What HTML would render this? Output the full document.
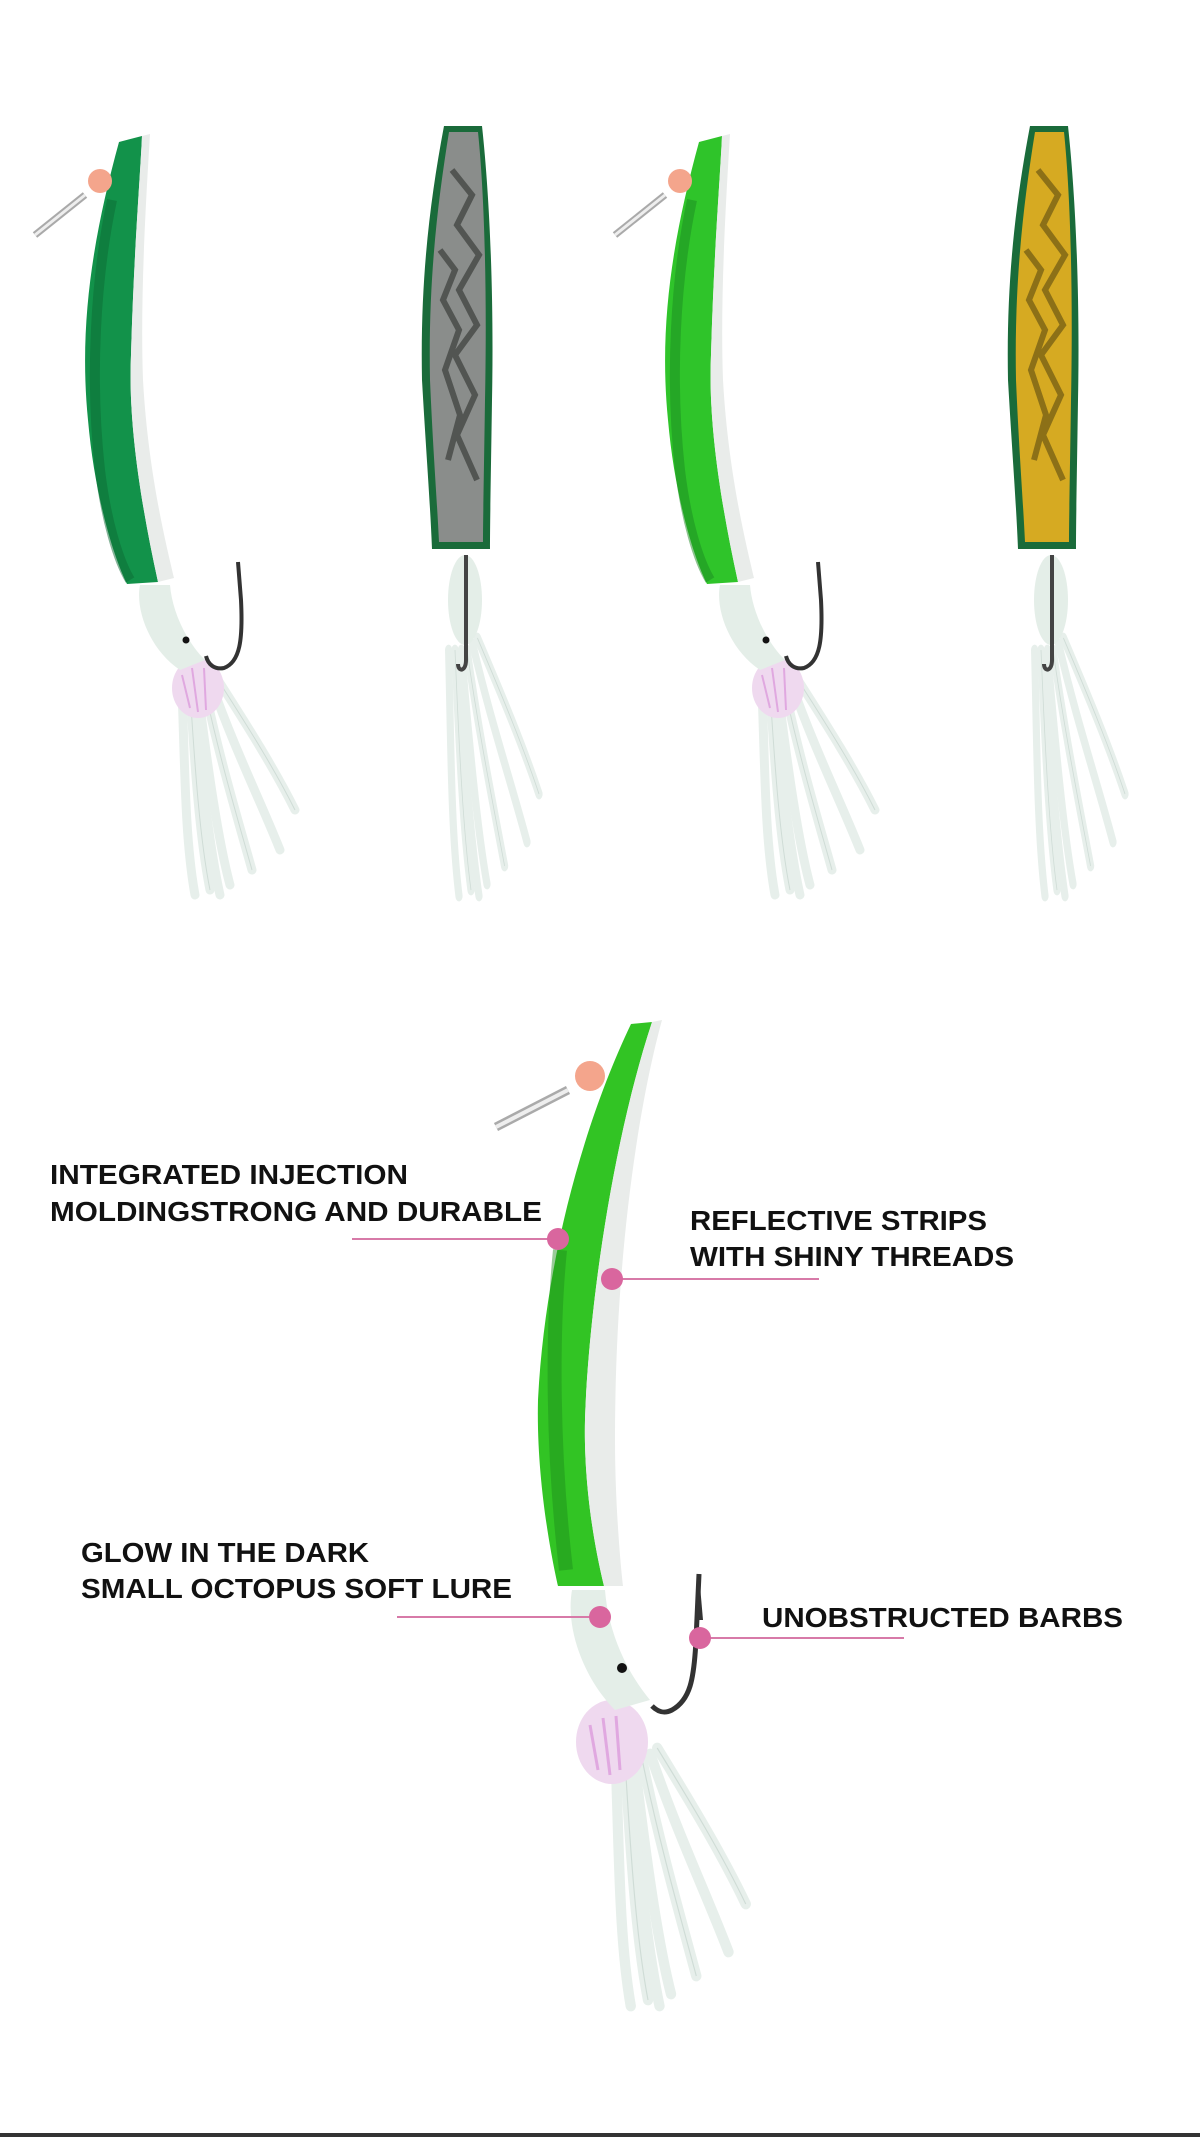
<!DOCTYPE html>
<html><head><meta charset="utf-8"><style>
html,body{margin:0;padding:0;background:#fff;}
svg{display:block;}
text{font-family:"Liberation Sans",Arial,sans-serif;font-weight:bold;fill:#111;font-size:28px;}
</style></head><body>
<svg width="1200" height="2137" viewBox="0 0 1200 2137" xmlns="http://www.w3.org/2000/svg">
<defs>
<g id="oct">
  <!-- tentacles -->
  <g stroke="#e6efea" stroke-width="9" stroke-linecap="round" fill="none" opacity="0.95">
    <path d="M0,0 C5,80 10,150 20,200"/>
    <path d="M8,0 C18,80 28,150 40,195"/>
    <path d="M15,0 C30,70 48,130 62,180"/>
    <path d="M22,-5 C45,60 70,110 90,160"/>
    <path d="M28,-10 C60,40 85,80 105,120"/>
    <path d="M-8,0 C-5,80 -5,150 5,205"/>
    <path d="M2,5 C12,90 20,160 30,205"/>
  </g>
  <g stroke="#cfdcd6" stroke-width="1" fill="none">
    <path d="M0,0 C5,80 10,150 20,200"/>
    <path d="M15,0 C30,70 48,130 62,180"/>
    <path d="M28,-10 C60,40 85,80 105,120"/>
  </g>
</g>
</defs>

<!-- ===== Lure 1 ===== -->
<g>
  <use href="#oct" transform="translate(190,690)"/>
  <ellipse cx="198" cy="688" rx="26" ry="30" fill="#efd9ef"/>
  <path d="M182,675 L190,708 M192,668 L198,712 M204,668 L206,710" stroke="#e0a8e0" stroke-width="2"/>
  <path d="M140,585 C135,610 150,650 180,670 L205,660 C185,640 172,610 170,585 Z" fill="#e4eee8"/>
  <circle cx="186" cy="640" r="3.5" fill="#111"/>
  <path d="M238,562 L241,600 C243,640 240,662 224,668 C214,670 208,664 206,656" stroke="#333" stroke-width="4" fill="none"/>
  <path d="M119,142 C95,230 78,320 88,420 C95,500 115,560 127,584 L158,582 C140,500 128,420 131,355 C134,250 140,180 142,136 Z" fill="#12924a"/>
  <path d="M112,200 C95,280 90,380 100,470 C106,520 118,560 130,580" stroke="#0b6a34" stroke-width="10" fill="none" opacity="0.5"/>
  <path d="M142,136 L150,134 C146,200 140,300 143,380 C148,470 165,540 174,578 L158,582 C140,500 128,420 131,355 C134,250 140,180 142,136 Z" fill="#e9ecea"/>
  <circle cx="100" cy="181" r="12" fill="#f4a58c"/>
  <path d="M35,235 L85,195" stroke="#aaa" stroke-width="7"/>
  <path d="M35,235 L85,195" stroke="#eee" stroke-width="3"/>
</g>

<!-- ===== Lure 2 ===== -->
<g id="l2">
  <use href="#oct" transform="translate(455,650) scale(0.8,1.2)"/>
  <ellipse cx="465" cy="600" rx="17" ry="45" fill="#e4eee8"/>
  <path d="M466,555 L466,660 C466,672 458,672 458,664" stroke="#444" stroke-width="4" fill="none"/>
  <path d="M444,126 L482,126 C490,200 494,300 492,400 C491,470 490,520 490,549 L432,549 C430,500 426,450 422,380 C420,280 430,200 444,126 Z" fill="#1a6b3a"/>
  <path d="M449,132 L478,132 C485,200 487,300 485,400 C484,470 483,520 483,542 L439,542 C437,500 433,450 430,380 C428,280 438,200 449,132 Z" fill="#8a8d8b"/>
  <path d="M452,170 l20,25 l-15,30 l22,30 l-20,35 l18,35 l-22,30 l20,40 l-18,40 l20,45 M440,250 l15,20 l-12,30 l16,30 l-14,40 l15,45 l-12,45" stroke="#3a3d3b" stroke-width="6" fill="none" opacity="0.7"/>
</g>

<!-- ===== Lure 3 (copy of lure 1, bright green) ===== -->
<g transform="translate(580,0)">
  <use href="#oct" transform="translate(190,690)"/>
  <ellipse cx="198" cy="688" rx="26" ry="30" fill="#efd9ef"/>
  <path d="M182,675 L190,708 M192,668 L198,712 M204,668 L206,710" stroke="#e0a8e0" stroke-width="2"/>
  <path d="M140,585 C135,610 150,650 180,670 L205,660 C185,640 172,610 170,585 Z" fill="#e4eee8"/>
  <circle cx="186" cy="640" r="3.5" fill="#111"/>
  <path d="M238,562 L241,600 C243,640 240,662 224,668 C214,670 208,664 206,656" stroke="#333" stroke-width="4" fill="none"/>
  <path d="M119,142 C95,230 78,320 88,420 C95,500 115,560 127,584 L158,582 C140,500 128,420 131,355 C134,250 140,180 142,136 Z" fill="#2fc42a"/>
  <path d="M112,200 C95,280 90,380 100,470 C106,520 118,560 130,580" stroke="#1b8a22" stroke-width="10" fill="none" opacity="0.5"/>
  <path d="M142,136 L150,134 C146,200 140,300 143,380 C148,470 165,540 174,578 L158,582 C140,500 128,420 131,355 C134,250 140,180 142,136 Z" fill="#e9ecea"/>
  <circle cx="100" cy="181" r="12" fill="#f4a58c"/>
  <path d="M35,235 L85,195" stroke="#aaa" stroke-width="7"/>
  <path d="M35,235 L85,195" stroke="#eee" stroke-width="3"/>
</g>

<!-- ===== Lure 4 (gold) ===== -->
<g transform="translate(586,0)">
  <use href="#oct" transform="translate(455,650) scale(0.8,1.2)"/>
  <ellipse cx="465" cy="600" rx="17" ry="45" fill="#e4eee8"/>
  <path d="M466,555 L466,660 C466,672 458,672 458,664" stroke="#444" stroke-width="4" fill="none"/>
  <path d="M444,126 L482,126 C490,200 494,300 492,400 C491,470 490,520 490,549 L432,549 C430,500 426,450 422,380 C420,280 430,200 444,126 Z" fill="#1a6b3a"/>
  <path d="M449,132 L478,132 C485,200 487,300 485,400 C484,470 483,520 483,542 L439,542 C437,500 433,450 430,380 C428,280 438,200 449,132 Z" fill="#d6aa22"/>
  <path d="M452,170 l20,25 l-15,30 l22,30 l-20,35 l18,35 l-22,30 l20,40 l-18,40 l20,45 M440,250 l15,20 l-12,30 l16,30 l-14,40 l15,45 l-12,45" stroke="#5a4a10" stroke-width="6" fill="none" opacity="0.6"/>
</g>

<!-- ===== Big lure ===== -->
<g>
  <use href="#oct" transform="translate(625,1760) scale(1.15,1.2)"/>
  <ellipse cx="612" cy="1742" rx="36" ry="42" fill="#efd9ef"/>
  <path d="M590,1725 L598,1770 M603,1718 L610,1775 M616,1716 L620,1770" stroke="#e0a8e0" stroke-width="3"/>
  <path d="M572,1590 C565,1630 585,1680 615,1710 L650,1700 C625,1670 608,1630 605,1590 Z" fill="#e4eee8"/>
  <circle cx="622" cy="1668" r="5" fill="#111"/>
  <path d="M699,1574 L696,1640 C694,1680 690,1700 672,1710 C664,1714 658,1712 652,1706" stroke="#333" stroke-width="5" fill="none"/>
  <path d="M699,1574 L703,1620 L695,1620 Z" fill="#333"/>
  <path d="M631,1024 C585,1120 545,1260 538,1400 C536,1480 552,1560 558,1586 L604,1586 C588,1520 584,1460 585,1420 C588,1320 610,1150 652,1022 Z" fill="#32c424"/>
  <path d="M560,1250 C552,1330 552,1450 566,1570" stroke="#1c8c1c" stroke-width="14" fill="none" opacity="0.45"/>
  <path d="M652,1022 L662,1020 C640,1100 615,1250 615,1440 C615,1500 620,1560 623,1586 L604,1586 C588,1520 584,1460 585,1420 C588,1320 610,1150 652,1022 Z" fill="#e9ecea"/>
  <circle cx="590" cy="1076" r="15" fill="#f4a58c"/>
  <path d="M496,1127 L568,1090" stroke="#aaa" stroke-width="9"/>
  <path d="M496,1127 L568,1090" stroke="#eee" stroke-width="4"/>
</g>

<!-- ===== Callouts ===== -->
<g stroke="#d77aa8" stroke-width="2">
  <line x1="352" y1="1239" x2="561" y2="1239"/>
  <line x1="612" y1="1279" x2="819" y2="1279"/>
  <line x1="397" y1="1617" x2="600" y2="1617"/>
  <line x1="702" y1="1638" x2="904" y2="1638"/>
</g>
<g fill="#d9669e">
  <circle cx="558" cy="1239" r="11"/>
  <circle cx="612" cy="1279" r="11"/>
  <circle cx="600" cy="1617" r="11"/>
  <circle cx="700" cy="1638" r="11"/>
</g>

<text x="50" y="1184" textLength="358" lengthAdjust="spacingAndGlyphs">INTEGRATED INJECTION</text>
<text x="50" y="1221" textLength="492" lengthAdjust="spacingAndGlyphs">MOLDINGSTRONG AND DURABLE</text>
<text x="690" y="1230" textLength="297" lengthAdjust="spacingAndGlyphs">REFLECTIVE STRIPS</text>
<text x="690" y="1266" textLength="324" lengthAdjust="spacingAndGlyphs">WITH SHINY THREADS</text>
<text x="81" y="1562" textLength="288" lengthAdjust="spacingAndGlyphs">GLOW IN THE DARK</text>
<text x="81" y="1598" textLength="431" lengthAdjust="spacingAndGlyphs">SMALL OCTOPUS SOFT LURE</text>
<text x="762" y="1627" textLength="361" lengthAdjust="spacingAndGlyphs">UNOBSTRUCTED BARBS</text>

<rect x="0" y="2133" width="1200" height="4" fill="#333"/>
</svg>
</body></html>
